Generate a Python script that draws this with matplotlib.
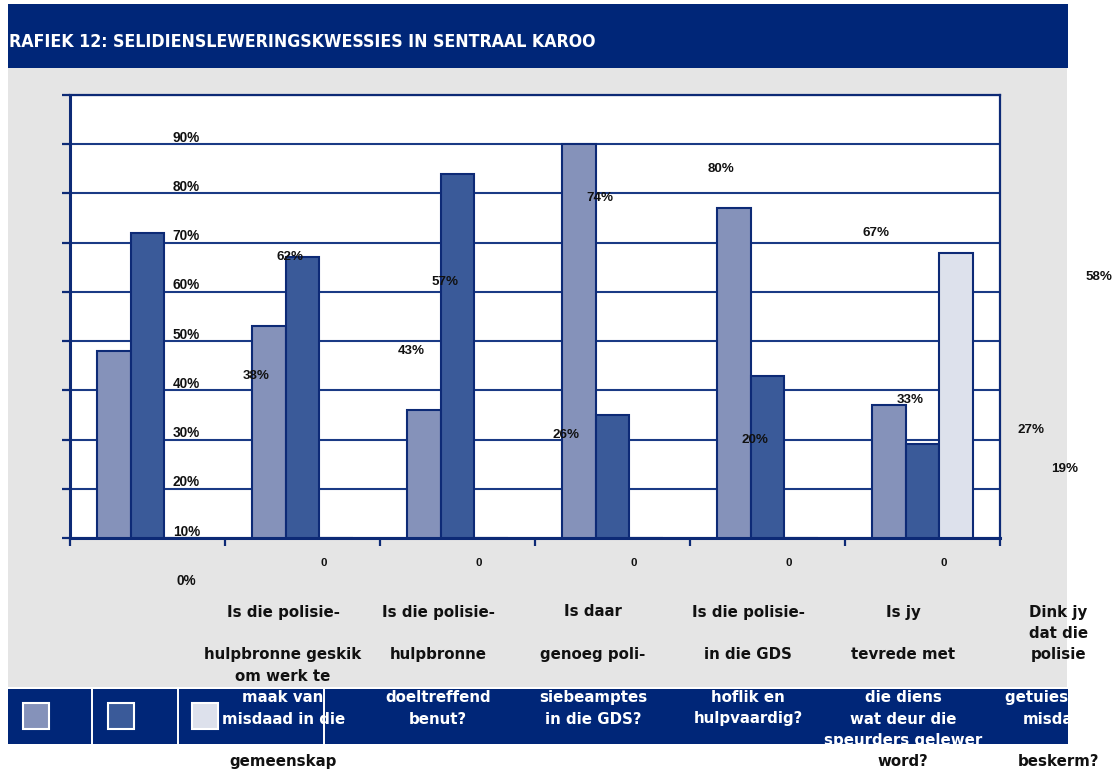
import matplotlib
matplotlib.use("Agg")
import matplotlib.pyplot as plt
from matplotlib.patches import Rectangle
from matplotlib.lines import Line2D
from matplotlib import transforms
from matplotlib import font_manager as fm
import numpy as np

# ---------------- data ----------------
title = "RAFIEK 12: SELIDIENSLEWERINGSKWESSIES IN SENTRAAL KAROO"
bars_light = [38, 43, 26, 80, 67, 27]
bars_dark = [62, 57, 74, 25, 33, 19]
bars_pale = [0, 0, 0, 0, 0, 58]
labels_light = ["38%", "43%", "26%", "80%", "67%", "27%"]
labels_dark = ["62%", "57%", "74%", "20%", "33%", "19%"]
labels_pale = ["0", "0", "0", "0", "0", "58%"]
y_ticks = [0, 10, 20, 30, 40, 50, 60, 70, 80, 90]
y_tick_labels = ["0%", "10%", "20%", "30%", "40%", "50%", "60%", "70%", "80%", "90%"]
category_lines = [
    ["Is die polisie-", "", "hulpbronne geskik", "om werk te", "maak van", "misdaad in die", "", "gemeenskap"],
    ["Is die polisie-", "", "hulpbronne", "", "doeltreffend", "benut?", "", ""],
    ["Is daar", "", "genoeg poli-", "", "siebeamptes", "in die GDS?", "", ""],
    ["Is die polisie-", "", "in die GDS", "", "hoflik en", "hulpvaardig?", "", ""],
    ["Is jy", "", "tevrede met", "", "die diens", "wat deur die", "speurders gelewer", "word?"],
    ["Dink jy", "dat die", "polisie", "", "getuies teen", "misdaad", "", "beskerm?"],
]

# ---------------- style ----------------
W, H = 1113, 770
NAVY = "#002678"
GRID = "#1a3a85"
EDGE = "#0d2a76"
GRAY = "#e5e5e5"
C_LIGHT = "#8592ba"
C_DARK = "#3a5a99"
C_PALE = "#dde1ec"
LBL_FONT = "Liberation Sans"
CAT_FONT = "DejaVu Sans"


def pick_title_font():
    cands = []
    for f in fm.fontManager.ttflist:
        nm = f.name.lower()
        narrow = ("narrow" in nm or "condensed" in nm or
                  str(f.stretch).lower() in ("condensed", "semi-condensed", "extra-condensed"))
        wt = f.weight if isinstance(f.weight, int) else (700 if "bold" in str(f.weight).lower() else 400)
        if narrow and wt >= 600 and "italic" not in str(f.style).lower() and "oblique" not in str(f.style).lower():
            cands.append(f)
    if cands:
        return fm.FontProperties(fname=cands[0].fname)
    for fam in ("Roboto", "Lato", "Liberation Sans"):
        try:
            fm.findfont(fm.FontProperties(family=fam, weight="bold"), fallback_to_default=False)
            return fm.FontProperties(family=fam, weight="bold")
        except Exception:
            pass
    return fm.FontProperties(family="DejaVu Sans", weight="bold")


fig = plt.figure(figsize=(W / 100, H / 100), dpi=100)
fig.patch.set_facecolor("white")


def rect(x0, y0, x1, y1, **kw):
    r = Rectangle((x0 / W, 1 - y1 / H), (x1 - x0) / W, (y1 - y0) / H,
                  transform=fig.transFigure, **kw)
    fig.add_artist(r)
    return r


# background panels
rect(8, 4, 1068, 68, facecolor=NAVY, edgecolor="none", zorder=-10)
rect(8, 68, 1067, 687, facecolor=GRAY, edgecolor="none", zorder=-10)
rect(8, 689, 1068, 744, facecolor=NAVY, edgecolor="none", zorder=1)

# title
tp = pick_title_font()
tp.set_size(14)
t = fig.text(9 / W, 1 - 42 / H, title, color="white", fontproperties=tp,
             ha="left", va="center", zorder=2)
fig.canvas.draw()
bb = t.get_window_extent()
t.set_fontsize(min(14 * 588 / bb.width, 17))

# axes
ax = fig.add_axes([70 / W, 1 - 538 / H, 930 / W, 443 / H])
ax.set_facecolor("white")
ax.set_xlim(-0.5, 5.5)
ax.set_ylim(0, 90)

x = np.arange(len(bars_light))
w = 0.217
ax.bar(x - w, bars_light, w, color=C_LIGHT, edgecolor=EDGE, linewidth=1.5, zorder=3)
ax.bar(x, bars_dark, w, color=C_DARK, edgecolor=EDGE, linewidth=1.5, zorder=3)
ax.bar(x + w, bars_pale, w, color=C_PALE, edgecolor=EDGE, linewidth=1.5, zorder=3)

for s in ax.spines.values():
    s.set_color(EDGE)
    s.set_linewidth(1.6)
ax.spines["left"].set_linewidth(2.2)
ax.spines["bottom"].set_linewidth(2.2)

ax.set_yticks(y_ticks)
ax.set_xticks(np.arange(-0.5, 6.0, 1.0))
ax.tick_params(axis="both", direction="out", length=6, width=1.6, color=EDGE,
               labelleft=False, labelbottom=False)
ax.yaxis.grid(True, color=GRID, linewidth=1.5)
ax.set_axisbelow(True)

# y tick labels (as drawn in the reference: shifted into the plot)
for v, lab in zip(y_ticks, y_tick_labels):
    ax.text(0.25, v - 8.7, lab, ha="center", va="center", fontsize=9.8,
            fontweight="bold", family=LBL_FONT, color="#111111", zorder=6)

# value labels (shifted like in the reference)
dx, dy = 0.92, -5.0
for off, vals, labs in ((-w, bars_light, labels_light),
                        (0.0, bars_dark, labels_dark),
                        (w, bars_pale, labels_pale)):
    for xi, v, lab in zip(x, vals, labs):
        fs = 8.2 if lab == "0" else 9.6
        ax.text(xi + off + dx, v + dy, lab, ha="center", va="center",
                fontsize=fs, fontweight="bold", family=LBL_FONT,
                color="#111111", zorder=6)

# category labels
blend = transforms.blended_transform_factory(ax.transData, fig.transFigure)
slot_y = [612 + 21.4 * k for k in range(8)]
for i, lines in enumerate(category_lines):
    for k, line in enumerate(lines):
        if not line:
            continue
        col = "white" if k in (4, 5, 6) else "#111111"
        fig.text(i + 0.875, 1 - slot_y[k] / H, line, transform=blend,
                 ha="center", va="center", fontsize=10.8, fontweight="bold",
                 family=CAT_FONT, color=col, zorder=3)

# legend swatches and dividers
for (x0, x1), c in zip(((23, 49), (108, 134), (192, 218)), (C_LIGHT, C_DARK, C_PALE)):
    rect(x0, 703, x1, 729, facecolor=c, edgecolor="white", linewidth=1.5, zorder=4)
for xd in (92, 178, 324):
    fig.add_artist(Line2D([xd / W, xd / W], [1 - 689 / H, 1 - 744 / H],
                          transform=fig.transFigure, color="white", lw=1.4, zorder=5))

fig.savefig("out.png", dpi=100)
